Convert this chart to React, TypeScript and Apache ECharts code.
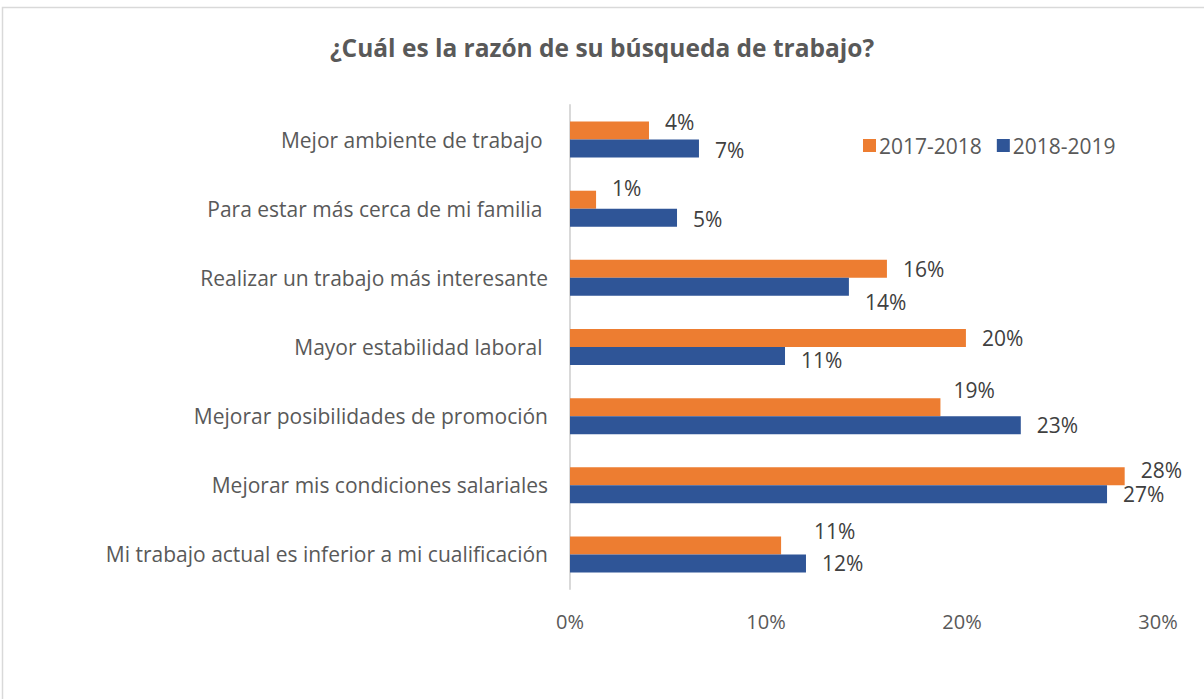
import React, { useEffect, useRef } from "react";
import * as echarts from "echarts";

const title = "¿Cuál es la razón de su búsqueda de trabajo?";
const categories = [
  "Mejor ambiente de trabajo ",
  "Para estar más cerca de mi familia ",
  "Realizar un trabajo más interesante",
  "Mayor estabilidad laboral ",
  "Mejorar posibilidades de promoción",
  "Mejorar mis condiciones salariales",
  "Mi trabajo actual es inferior a mi cualificación",
];
const seriesNames = ["2017-2018", "2018-2019"];
const values2017 = [4.03, 1.33, 16.17, 20.2, 18.9, 28.3, 10.77];
const values2018 = [6.58, 5.46, 14.23, 10.97, 23.0, 27.4, 12.04];
const xTicks = [0, 10, 20, 30];

// label nudges (layout only), [dx, dy] per category
const nudge2017 = [[0, -9], [0, -12], [0, 0], [0, 0], [-3, -17], [0, -6], [17, -14]];
const nudge2018 = [[0, 1], [0, 1], [0, 15], [0, 4], [0, 0], [0, 0], [0, 0]];

const FONT = "'Open Sans', sans-serif";
const GRAY = "#595959";

export default function App() {
  const ref = useRef<HTMLDivElement>(null);
  useEffect(() => {
    if (!ref.current) return;
    const chart = echarts.init(ref.current, null, { renderer: "svg" });
    const mk = (vals: number[], nudges: number[][]) =>
      vals.map((v, i) => ({
        value: v,
        label: { offset: nudges[i] },
      }));
    const labelCfg = {
      show: true,
      position: "right",
      distance: 16,
      formatter: (p: any) => Math.round(p.value) + "%",
      fontFamily: FONT,
      fontSize: 21,
      color: "#404040",
    };
    chart.setOption({
      animation: false,
      backgroundColor: "#ffffff",
      title: {
        text: title,
        left: "center",
        top: 30,
        textStyle: { fontFamily: FONT, fontSize: 24.5, fontWeight: "bold", color: GRAY },
      },
      legend: {
        data: seriesNames,
        left: 858,
        top: 130,
        itemWidth: 13,
        itemHeight: 13,
        itemGap: 15,
        icon: "rect",
        textStyle: { fontFamily: FONT, fontSize: 21, color: GRAY, padding: [0, 0, 0, -2] },
      },
      grid: { left: 570, right: 46, top: 105, bottom: 110, containLabel: false },
      xAxis: {
        type: "value",
        min: xTicks[0],
        max: xTicks[xTicks.length - 1],
        interval: 10,
        axisLine: { show: false },
        axisTick: { show: false },
        splitLine: { show: false },
        axisLabel: {
          formatter: (v: number) => v + "%",
          fontFamily: FONT,
          fontSize: 20,
          color: GRAY,
          margin: 22,
        },
      },
      yAxis: {
        type: "category",
        data: categories,
        inverse: true,
        axisLine: { show: true, lineStyle: { color: "#d9d9d9", width: 2 } },
        axisTick: { show: false },
        axisLabel: {
          fontFamily: FONT,
          fontSize: 21,
          color: GRAY,
          margin: 22,
        },
      },
      series: [
        {
          name: seriesNames[0],
          type: "bar",
          data: mk(values2017, nudge2017),
          itemStyle: { color: "#ED7D31" },
          barWidth: 18,
          barGap: "0%",
          label: labelCfg,
        },
        {
          name: seriesNames[1],
          type: "bar",
          data: mk(values2018, nudge2018),
          itemStyle: { color: "#2F5597" },
          barWidth: 18,
          barGap: "0%",
          label: labelCfg,
        },
      ],
      graphic: [
        {
          type: "rect",
          shape: { x: 2.5, y: 7.5, width: 1220, height: 710 },
          style: { fill: "none", stroke: "#d9d9d9", lineWidth: 1.5 },
          silent: true,
        },
      ],
    });
    return () => chart.dispose();
  }, []);
  return (
    <div
      ref={ref}
      style={{ position: "fixed", left: 0, top: 0, width: 1204, height: 699 }}
    />
  );
}
